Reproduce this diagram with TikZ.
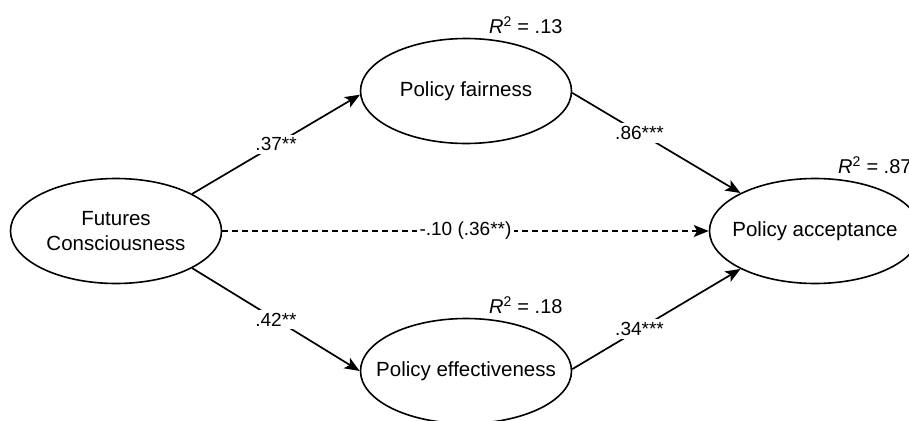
\documentclass[tikz,border=0pt]{standalone}
\usepackage{fontspec}
\setmainfont{Liberation Sans}
\usetikzlibrary{arrows.meta,shapes.geometric}

\begin{document}
\begin{tikzpicture}[x=1pt,y=-1pt,
  latent/.style={ellipse, draw, line width=1.6pt, minimum width=211pt,
    minimum height=105pt, inner sep=0pt},
  construct/.style={align=center, inner sep=0pt, font=\fontsize{20.5}{25}\selectfont},
  effect/.style={line width=1.7pt, -{Stealth[length=15pt,width=12pt,inset=3.5pt]}},
  coef/.style={fill=white, inner sep=3pt, font=\fontsize{19}{22}\selectfont},
  rsq/.style={anchor=west, inner sep=0pt, font=\fontsize{20}{24}\selectfont}]
\useasboundingbox (0,0) rectangle (909,420);

% latent constructs (outline first, name set on top)
\node[latent] (fc)   at (116,231) {};
\node[latent] (fair) at (466,91)  {};
\node[latent] (eff)  at (466,371) {};
\node[latent] (acc)  at (815,231) {};
\node[construct] (fct)   at (fc.center)   {Futures\\Consciousness};
\node[construct] (fairt) at (fair.center) {Policy fairness};
\node[construct] (efft)  at (eff.center)  {Policy effectiveness};
\node[construct] (acct)  at (acc.center)  {Policy acceptance};

% explained variance
\node[rsq] (rfair) at (489,25)  {\textit{R}\textsuperscript{2} = .13};
\node[rsq] (reff)  at (489,305) {\textit{R}\textsuperscript{2} = .18};
\node[rsq] (racc)  at (838,165) {\textit{R}\textsuperscript{2} = .87};

% structural paths
\draw[effect] (fc.26.6) -- node[coef] {.37**} (fair.182);
\draw[effect] (fc.-26)  -- node[coef] {.42**} (eff.180.5);
\draw[effect] (fair.-1) -- node[coef,pos=0.4] {.86***} (acc.153.7);
\draw[effect] (eff.1.6) -- node[coef,pos=0.4] {.34***} (acc.207.7);
\draw[effect,dash pattern=on 6pt off 4pt] (fc.east) -- node[coef] {-.10 (.36**)} (acc.west);
\end{tikzpicture}
\end{document}
